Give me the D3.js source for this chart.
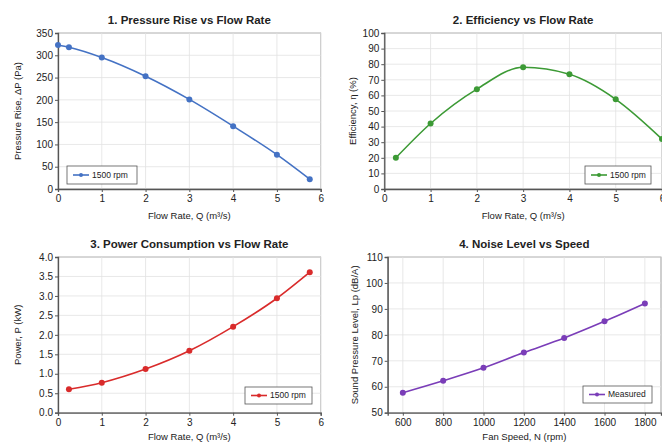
<!DOCTYPE html>
<html>
<head>
<meta charset="utf-8">
<script src="https://cdn.jsdelivr.net/npm/d3@7"></script>
<style>
  body { margin: 0; background: #fff; }
  svg { display: block; font-family: "Liberation Sans", Arial, sans-serif; }
</style>
</head>
<body>
<div class="graph"></div>
<script>
// data
var pressureQ = [0, 0.25, 1, 2, 3, 4, 5, 5.75];
var pressure = [323, 318, 295, 253, 201, 141, 77, 22];

var effQ = [0.25, 1, 2, 3, 4, 5, 6];
var efficiency = [20, 42, 64, 78, 73.5, 57.5, 32];

var powerQ = [0.25, 1, 2, 3, 4, 5, 5.75];
var power = [0.6, 0.77, 1.12, 1.59, 2.21, 2.94, 3.61];

var fanSpeed = [600, 800, 1000, 1200, 1400, 1600, 1800];
var noise = [57.7, 62.3, 67.3, 73.2, 78.8, 85.2, 92.1];

var flowTicks = [0, 1, 2, 3, 4, 5, 6];
var pressureTicks = [0, 50, 100, 150, 200, 250, 300, 350];
var effTicks = [0, 10, 20, 30, 40, 50, 60, 70, 80, 90, 100];
var powerTicks = [0, 0.5, 1, 1.5, 2, 2.5, 3, 3.5, 4];
var speedTicks = [600, 800, 1000, 1200, 1400, 1600, 1800];
var noiseTicks = [50, 60, 70, 80, 90, 100, 110];

var svg = d3.select('.graph').append('svg')
    .attr('width', 662)
    .attr('height', 443);

var intFmt = d3.format('d');

var panels = [
    { title: '1. Pressure Rise vs Flow Rate', xs: pressureQ, ys: pressure,
      xDom: [0, 6], yDom: [0, 350], xTicks: flowTicks, yTicks: pressureTicks, yFmt: intFmt,
      box: [58, 33, 320.7, 189], color: '#4472c4', xLabY: 219,
      xLabel: 'Flow Rate, Q (m\u00b3/s)', yLabel: 'Pressure Rise, \u0394P (Pa)', yLabX: 18,
      legend: { text: '1500 rpm', x: 67, y: 166, w: 70, h: 18 } },
    { title: '2. Efficiency vs Flow Rate', xs: effQ, ys: efficiency,
      xDom: [0, 6], yDom: [0, 100], xTicks: flowTicks, yTicks: effTicks, yFmt: intFmt,
      box: [384.3, 33, 662, 189], color: '#3c9a35', xLabY: 219,
      xLabel: 'Flow Rate, Q (m\u00b3/s)', yLabel: 'Efficiency, \u03b7 (%)', yLabX: 353,
      legend: { text: '1500 rpm', x: 585, y: 166, w: 66, h: 18 } },
    { title: '3. Power Consumption vs Flow Rate', xs: powerQ, ys: power,
      xDom: [0, 6], yDom: [0, 4], xTicks: flowTicks, yTicks: powerTicks, yFmt: d3.format('.1f'),
      box: [58, 257, 320.7, 412.7], color: '#d92b2b', xLabY: 440,
      xLabel: 'Flow Rate, Q (m\u00b3/s)', yLabel: 'Power, P (kW)', yLabX: 18,
      legend: { text: '1500 rpm', x: 245, y: 387, w: 67, h: 17 } },
    { title: '4. Noise Level vs Speed', xs: fanSpeed, ys: noise,
      xDom: [525, 1880], yDom: [50, 110], xTicks: speedTicks, yTicks: noiseTicks, yFmt: intFmt,
      box: [387.7, 257, 661, 412.7], color: '#7a3db8', xLabY: 440,
      xLabel: 'Fan Speed, N (rpm)', yLabel: 'Sound Pressure Level, Lp (dB/A)', yLabX: 355,
      legend: { text: 'Measured', x: 583, y: 386, w: 69, h: 17 } }
];

panels.forEach(function(p) {
    var x0 = p.box[0], y0 = p.box[1], x1 = p.box[2], y1 = p.box[3];
    var xScale = d3.scaleLinear().domain(p.xDom).range([x0, x1]);
    var yScale = d3.scaleLinear().domain(p.yDom).range([y1, y0]);
    var g = svg.append('g');

    // plot frame and grid
    g.append('rect')
        .attr('x', x0).attr('y', y0)
        .attr('width', x1 - x0).attr('height', y1 - y0)
        .attr('fill', '#fff').attr('stroke', '#888').attr('stroke-width', 0.8);

    g.append('g').selectAll('line')
      .data(p.xTicks)
      .enter()
      .append('line')
        .attr('x1', function(d) { return xScale(d); })
        .attr('x2', function(d) { return xScale(d); })
        .attr('y1', y0).attr('y2', y1)
        .attr('stroke', '#e2e2e2').attr('stroke-width', 0.8);

    g.append('g').selectAll('line')
      .data(p.yTicks)
      .enter()
      .append('line')
        .attr('y1', function(d) { return yScale(d); })
        .attr('y2', function(d) { return yScale(d); })
        .attr('x1', x0).attr('x2', x1)
        .attr('stroke', '#e2e2e2').attr('stroke-width', 0.8);

    var xAxis = d3.axisBottom(xScale).tickValues(p.xTicks).tickSize(3).tickPadding(3).tickFormat(intFmt);
    var yAxis = d3.axisLeft(yScale).tickValues(p.yTicks).tickSize(3).tickPadding(2).tickFormat(p.yFmt);

    var gx = g.append('g').attr('transform', 'translate(0,' + y1 + ')').call(xAxis);
    var gy = g.append('g').attr('transform', 'translate(' + x0 + ',0)').call(yAxis);
    [gx, gy].forEach(function(a) {
        a.select('.domain').attr('stroke', '#555').attr('stroke-width', 1.3);
        a.selectAll('.tick line').attr('stroke', '#555');
        a.selectAll('.tick text')
            .attr('fill', '#222')
            .style('font-size', '10px')
            .style('font-family', '"Liberation Sans", Arial, sans-serif');
    });

    // series
    var pts = p.xs.map(function(v, i) { return [v, p.ys[i]]; });
    var line = d3.line()
        .x(function(d) { return xScale(d[0]); })
        .y(function(d) { return yScale(d[1]); })
        .curve(d3.curveMonotoneX);

    g.append('path')
        .attr('d', line(pts))
        .attr('fill', 'none')
        .attr('stroke', p.color)
        .attr('stroke-width', 1.6);

    g.append('g').selectAll('circle')
      .data(pts)
      .enter()
      .append('circle')
        .attr('cx', function(d) { return xScale(d[0]); })
        .attr('cy', function(d) { return yScale(d[1]); })
        .attr('r', 3)
        .attr('fill', p.color);

    // titles and labels
    g.append('text')
        .attr('x', (x0 + x1) / 2).attr('y', y0 - 9)
        .attr('text-anchor', 'middle')
        .style('font-size', '11.5px').style('font-weight', 'bold')
        .attr('fill', '#222')
        .text(p.title);

    g.append('text')
        .attr('x', (x0 + x1) / 2).attr('y', p.xLabY)
        .attr('text-anchor', 'middle')
        .style('font-size', '9.5px')
        .attr('fill', '#222')
        .text(p.xLabel);

    g.append('text')
        .attr('transform', 'translate(' + p.yLabX + ',' + ((y0 + y1) / 2) + ') rotate(-90)')
        .attr('text-anchor', 'middle')
        .attr('dy', '0.35em')
        .style('font-size', '9.5px')
        .attr('fill', '#222')
        .text(p.yLabel);

    // legend
    var lg = p.legend;
    g.append('rect')
        .attr('x', lg.x).attr('y', lg.y)
        .attr('width', lg.w).attr('height', lg.h)
        .attr('fill', '#fff').attr('stroke', '#555').attr('stroke-width', 0.8);
    g.append('line')
        .attr('x1', lg.x + 6).attr('x2', lg.x + 22)
        .attr('y1', lg.y + lg.h / 2).attr('y2', lg.y + lg.h / 2)
        .attr('stroke', p.color).attr('stroke-width', 1.6);
    g.append('circle')
        .attr('cx', lg.x + 14).attr('cy', lg.y + lg.h / 2)
        .attr('r', 2).attr('fill', p.color);
    g.append('text')
        .attr('x', lg.x + 25).attr('y', lg.y + lg.h / 2)
        .attr('dy', '0.35em')
        .style('font-size', '8.5px')
        .attr('fill', '#222')
        .text(lg.text);
});
</script>
</body>
</html>
